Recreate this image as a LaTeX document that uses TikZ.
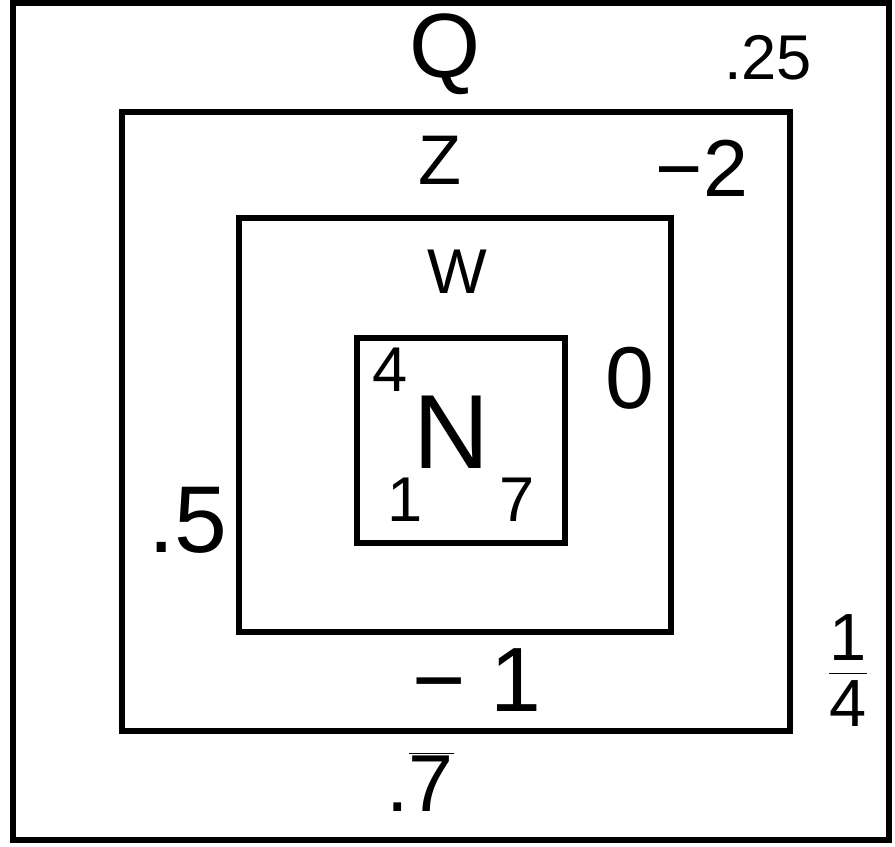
\documentclass[tikz,border=0pt]{standalone}
\usepackage{fontspec}
\setmainfont{Liberation Sans}
\newcommand{\fsz}[1]{\fontsize{#1}{#1}\selectfont}
\begin{document}
\begin{tikzpicture}[x=0.02cm,y=-0.02cm,line join=miter]
  \useasboundingbox (0,0) rectangle (895,846);
  \tikzset{frame/.style={line width=3.9pt},
    lbl/.style={inner sep=0pt,anchor=center}}
  % the four nested squares
  \coordinate (Q1) at (13,3);    \coordinate (Q2) at (889,840);
  \coordinate (Z1) at (122,112); \coordinate (Z2) at (790,731);
  \coordinate (W1) at (239,218); \coordinate (W2) at (671,632);
  \coordinate (N1) at (357,338); \coordinate (N2) at (565,543);
  \draw[frame] (Q1) rectangle (Q2);
  \draw[frame] (Z1) rectangle (Z2);
  \draw[frame] (W1) rectangle (W2);
  \draw[frame] (N1) rectangle (N2);
  % names
  \node[lbl,font=\fsz{52}] (q) at (445,54) {Q};
  \node[lbl,font=\fsz{40}] (z) at (440,160) {Z};
  \node[lbl,font=\fsz{36}] (w) at (457,272) {W};
  \node[lbl,font=\fsz{60}] (n) at (452,432) {N};
  % values
  \node[lbl,font=\fsz{36}] (qval) at (768,58) {.25};
  \node[lbl,font=\fsz{46}] (zval) at (702,168) {−2};
  \node[lbl,font=\fsz{50}] (wval) at (630,378) {0};
  \node[lbl,font=\fsz{36}] (nval) at (390,370) {4};
  \node[lbl,font=\fsz{36}] (none) at (405,500) {1};
  \node[lbl,font=\fsz{36}] (nseven) at (517,500) {7};
  \node[lbl,font=\fsz{54}] (wleft) at (188,520) {.5};
  \node[lbl,font=\fsz{52}] (wlow) at (477,680) {− 1};
  \node[lbl,font=\fsz{38}] (zright) at (848,680)
    {\begin{tabular}{@{}c@{}}1\\[-4pt]\hline\rule{0pt}{30pt}4\end{tabular}};
  \node[lbl,font=\fsz{46}] (zlow) at (420,782) {.$\overline{\mbox{7}}$};
\end{tikzpicture}
\end{document}
